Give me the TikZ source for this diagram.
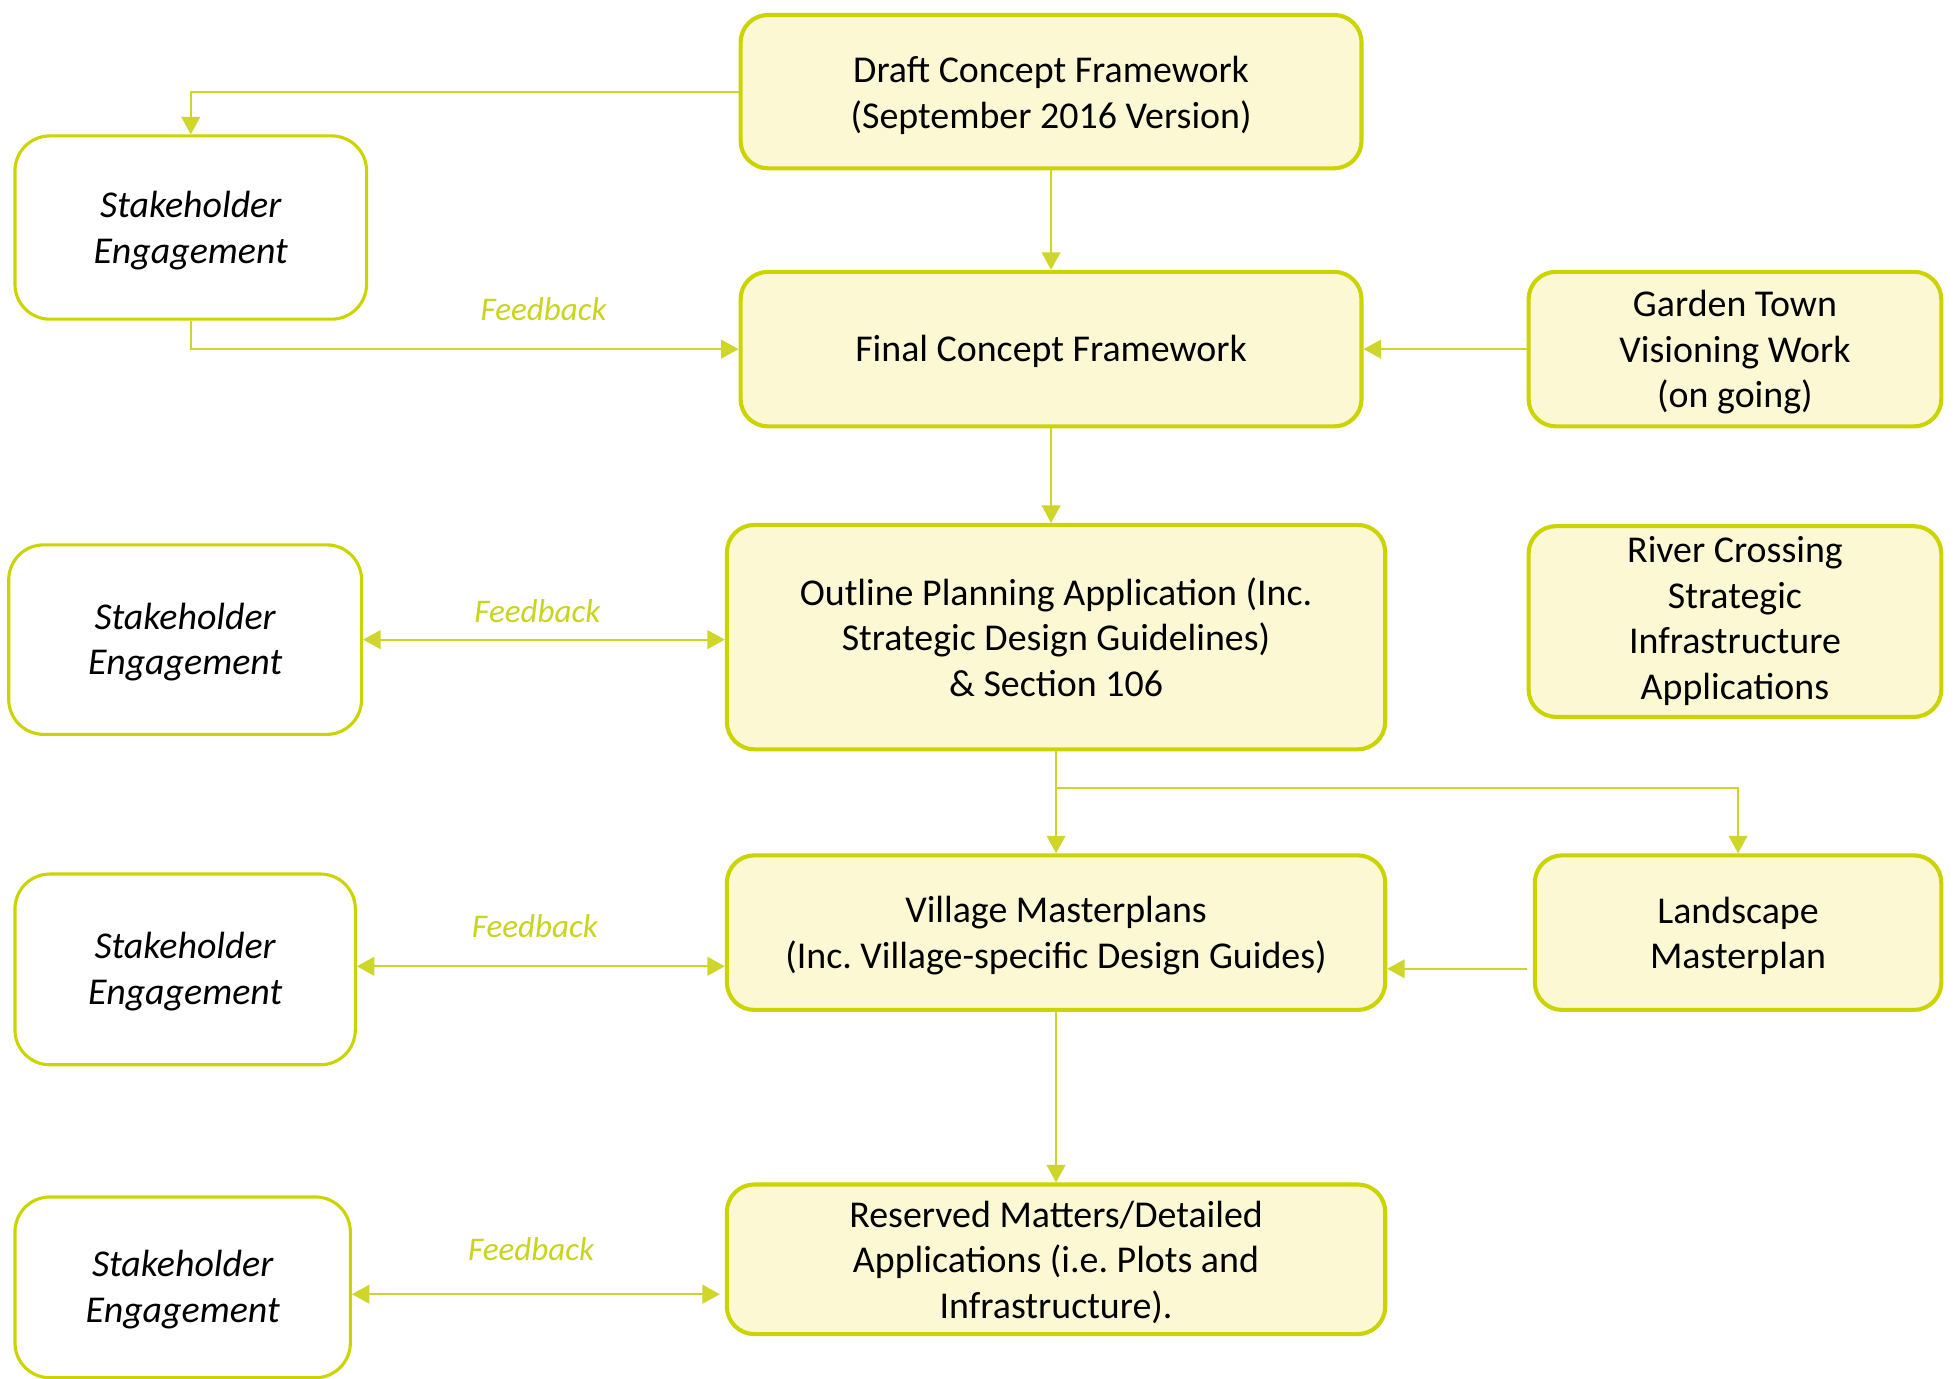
\documentclass[tikz,border=0pt]{standalone}
\usepackage{fontspec}
\setmainfont{Carlito}
\usetikzlibrary{arrows.meta}
\definecolor{lime}{HTML}{CCD400}
\definecolor{linelime}{HTML}{CED62A}
\definecolor{boxfill}{HTML}{FCF8D4}
\definecolor{fbtext}{HTML}{C8D41E}
\begin{document}
\frenchspacing
\begin{tikzpicture}[x=1pt,y=-1pt,
  mainbox/.style={draw=lime, fill=boxfill, line width=3.3pt, rounded corners=22pt, inner sep=0pt},
  stakebox/.style={draw=lime, fill=white, line width=2.5pt, rounded corners=28pt, inner sep=0pt},
  txt/.style={inner sep=0pt, align=center, font=\fontsize{30.4}{36.6}\selectfont\frenchspacing},
  stxt/.style={inner sep=0pt, align=center, font=\fontsize{30.4}{36.6}\selectfont\itshape},
  conn/.style={draw=linelime, line width=1.5pt, -{Triangle[length=14pt,width=15pt]}},
  biconn/.style={draw=linelime, line width=1.5pt, {Triangle[length=14pt,width=15pt]}-{Triangle[length=14pt,width=15pt]}},
  fb/.style={text=fbtext, inner sep=0pt, font=\fontsize{26.5}{30}\selectfont\itshape}]
\useasboundingbox (0,0) rectangle (1568,1106);
\fill[white] (0,0) rectangle (1568,1106);

% main column
\node[mainbox, minimum width=498pt, minimum height=123pt] (draft) at (843,73.5) {};
\node[txt] (draftT) at ([yshift=-3pt]draft.center) {Draft Concept Framework\\(September 2016 Version)};
\node[mainbox, minimum width=498pt, minimum height=124pt] (final) at (843,280) {};
\node[txt] (finalT) at ([yshift=-2pt]final.center) {Final Concept Framework};
\node[mainbox, minimum width=528pt, minimum height=180pt] (outline) at (847,511) {};
\node[txt] (outlineT) at (outline.center) {Outline Planning Application (Inc.\\Strategic Design Guidelines)\\\& Section 106};
\node[mainbox, minimum width=528pt, minimum height=124pt] (village) at (847,748) {};
\node[txt] (villageT) at ([yshift=-2.5pt]village.center) {Village Masterplans\\(Inc. Village-specific Design Guides)};
\node[mainbox, minimum width=528pt, minimum height=120pt] (reserved) at (847,1010) {};
\node[txt] (reservedT) at ([yshift=-2.5pt]reserved.center) {Reserved Matters/Detailed\\Applications (i.e. Plots and\\Infrastructure).};

% right column
\node[mainbox, minimum width=331pt, minimum height=124pt] (garden) at (1391.5,280) {};
\node[txt] (gardenT) at ([yshift=-2.5pt]garden.center) {Garden Town\\Visioning Work\\(on going)};
\node[mainbox, minimum width=331pt, minimum height=153pt] (river) at (1391.5,498.5) {};
\node[txt] (riverT) at ([yshift=0.5pt]river.center) {River Crossing\\Strategic\\Infrastructure\\Applications};
\node[mainbox, minimum width=326pt, minimum height=124pt] (landscape) at (1394,748) {};
\node[txt] (landscapeT) at ([yshift=-2.5pt]landscape.center) {Landscape\\Masterplan};

% stakeholder column
\node[stakebox, minimum width=282pt, minimum height=147pt] (s1) at (153,182.5) {};
\node[stxt] (s1T) at ([yshift=-2.5pt]s1.center) {Stakeholder\\Engagement};
\node[stakebox, minimum width=283pt, minimum height=152pt] (s2) at (148.5,513) {};
\node[stxt] (s2T) at ([yshift=-2pt]s2.center) {Stakeholder\\Engagement};
\node[stakebox, minimum width=273pt, minimum height=153pt] (s3) at (148.5,777.5) {};
\node[stxt] (s3T) at ([yshift=-1.5pt]s3.center) {Stakeholder\\Engagement};
\node[stakebox, minimum width=269pt, minimum height=145pt] (s4) at (146.5,1032.5) {};
\node[stxt] (s4T) at ([yshift=-2pt]s4.center) {Stakeholder\\Engagement};

% connectors
\draw[conn] (draft.west) -| (s1.north);
\draw[conn] (s1.south) |- (final.west);
\draw[conn] (draft.south) -- (final.north);
\draw[conn] (garden.west) -- (final.east);
\draw[conn] (final.south) -- (final.south |- outline.north);
\draw[biconn] (s2.east) -- (s2.east -| outline.west);
\draw[conn] (outline.south) -- (village.north);
\coordinate (branch) at (847,632);
\draw[conn] (branch) -| (landscape.north);
\draw[conn] ([xshift=-5pt,yshift=-29pt]landscape.west) -- ([yshift=-29pt]village.east);
\draw[biconn] ([yshift=2.5pt]s3.east) -- ([yshift=2.5pt]s3.east -| village.west);
\draw[conn] (village.south) -- (reserved.north);
\draw[biconn] ([yshift=-5.5pt]s4.east) -- ([xshift=-4pt,yshift=-5.5pt]s4.east -| reserved.west);

% feedback labels
\node[fb] (fb1) at (436,248) {Feedback};
\node[fb] (fb2) at (431,490) {Feedback};
\node[fb] (fb3) at (429,743) {Feedback};
\node[fb] (fb4) at (426,1002) {Feedback};
\end{tikzpicture}
\end{document}
